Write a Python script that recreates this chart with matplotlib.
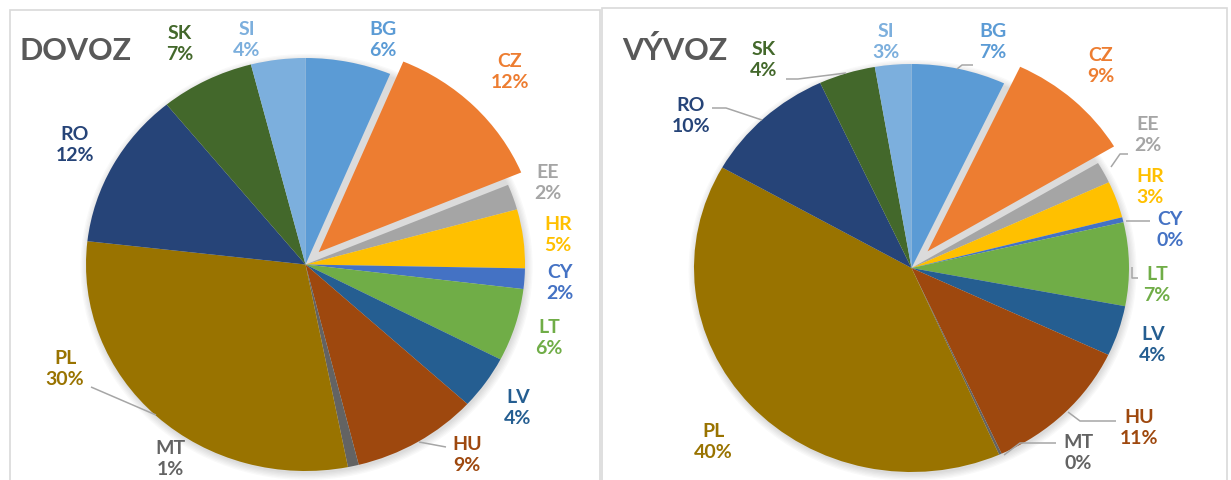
import matplotlib
matplotlib.use("Agg")
import matplotlib.pyplot as plt
from matplotlib.patches import Rectangle, Ellipse

plt.rcParams['font.family'] = ['Lato', 'DejaVu Sans']

# data (shares in %, Czech alphabetical order)
countries = ["BG", "CZ", "EE", "HR", "CY", "LT", "LV", "HU", "MT", "PL", "RO", "SK", "SI"]
dovoz = [6.3, 12.4, 2.0, 4.6, 1.6, 5.7, 4.2, 9.3, 0.8, 29.9, 12.3, 6.9, 4.0]
vyvoz = [7.0, 9.4, 1.7, 2.9, 0.4, 6.6, 4.0, 11.2, 0.2, 39.8, 9.9, 4.2, 2.7]
titles = ["DOVOZ", "VÝVOZ"]

colors = ["#5B9BD5", "#ED7D31", "#A5A5A5", "#FFC000", "#4472C4", "#70AD47", "#255E91",
          "#9E480E", "#636363", "#997300", "#264478", "#43682B", "#7CAFDD"]

W, H = 1231, 481
fig = plt.figure(figsize=(W / 100, H / 100), dpi=100)

# panel frames (pixels: left, top, right)
frames = [(10, 11, 600), (602, 9, 1227)]
for left, top, right in frames:
    fig.patches.append(Rectangle((left / W, -0.05), (right - left) / W, (H - top) / H + 0.05,
                                 transform=fig.transFigure, fill=False,
                                 edgecolor="#d9d9d9", lw=1.2))

# pie geometry in pixels: centre x, centre y, radius x, radius y
geoms = [(305.5, 265.5, 219.5, 206.5), (911.5, 269, 217.5, 204)]
explodes = [0.085, 0.11]

# label centres in pixels
label_pos = [
    [(383, 40), (510, 72), (548, 183), (558, 235), (560, 283), (549, 338), (518, 408),
     (467, 455), (170, 459), (65, 369), (75, 145), (180, 44), (247, 40)],
    [(993, 42), (1101, 66), (1148, 135), (1150, 187), (1170, 230), (1157, 285), (1153, 345),
     (1139, 428), (1078, 453), (713, 442), (691, 116), (764, 60), (886, 42)],
]
# leader lines in pixels
leaders = [
    [[(91, 388), (156, 416)], [(419, 443), (446, 448)]],
    [[(957, 70), (962, 66), (973, 66)], [(1111, 168), (1120, 155), (1128, 155)],
     [(1126, 222), (1150, 222)], [(1132, 268), (1132, 279), (1138, 279)],
     [(1068, 413), (1080, 422), (1116, 422)], [(1004, 456), (1020, 444), (1056, 444)],
     [(712, 109), (726, 109), (762, 121)], [(786, 80), (798, 80), (846, 74)]],
]
title_pos = [(20, 60), (622, 60)]

s = 1.7
for i, values in enumerate([dovoz, vyvoz]):
    cx, cy, rx, ry = geoms[i]
    ax = fig.add_axes([(cx - s * rx) / W, (H - cy - s * ry) / H, 2 * s * rx / W, 2 * s * ry / H])

    # soft shadow behind the pie
    for k in range(6):
        ax.add_patch(Ellipse((0.005, -0.012), 2 + 0.012 * k, 2 + 0.012 * k * rx / ry,
                             color="black", alpha=0.025, lw=0, zorder=0))

    expl = [0] * len(values)
    expl[countries.index("CZ")] = explodes[i]
    ax.pie(values, colors=colors, startangle=90, counterclock=False, explode=expl,
           wedgeprops=dict(linewidth=0))
    ax.set_aspect("auto")
    ax.set_xlim(-s, s)
    ax.set_ylim(-s, s)
    ax.axis("off")

    def to_data(p):
        return (p[0] - cx) / rx, (cy - p[1]) / ry

    total = sum(values)
    for name, v, c, p in zip(countries, values, colors, label_pos[i]):
        x, y = to_data(p)
        pct = int(v / total * 100 + 0.5)
        ax.text(x, y, f"{name}\n{pct}%", color=c, fontsize=14, fontweight="bold",
                ha="center", va="center", linespacing=1.3)

    for line in leaders[i]:
        pts = [to_data(p) for p in line]
        ax.plot([q[0] for q in pts], [q[1] for q in pts], color="#a6a6a6", lw=1.1,
                solid_capstyle="butt")

    tx, ty = title_pos[i]
    fig.text(tx / W, 1 - ty / H, titles[i], fontsize=22, fontweight="bold",
             color="#595959", ha="left", va="baseline")

fig.savefig("out.png", dpi=100)
